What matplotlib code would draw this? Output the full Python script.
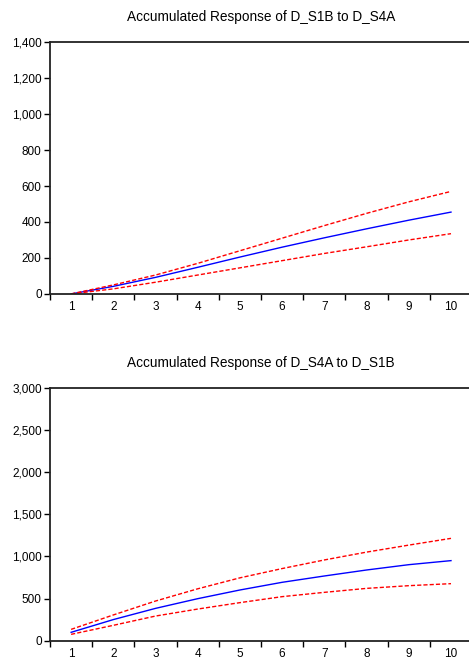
import numpy as np
import matplotlib.pyplot as plt
from matplotlib.ticker import FuncFormatter, MultipleLocator

plt.rcParams['font.family'] = ['Liberation Sans', 'DejaVu Sans']

# ----------------------------
# Data
# ----------------------------
periods = [1, 2, 3, 4, 5, 6, 7, 8, 9, 10]

s1b_mid = [0, 42, 92, 148, 205, 260, 312, 362, 410, 455]
s1b_up = [0, 50, 105, 170, 240, 310, 380, 448, 512, 570]
s1b_lo = [0, 28, 65, 105, 145, 185, 225, 262, 300, 335]

s4a_mid = [99, 250, 383, 498, 601, 692, 767, 838, 901, 949]
s4a_up = [134, 305, 470, 615, 745, 855, 957, 1050, 1133, 1213]
s4a_lo = [75, 182, 292, 375, 451, 522, 573, 620, 652, 676]


def draw_panel(ax, mid, up, lo, title, ymax, ystep):
    ax.plot(periods, mid, color="blue", lw=1.0)
    ax.plot(periods, up, color="red", lw=1.0, ls=(0, (3, 1.5)))
    ax.plot(periods, lo, color="red", lw=1.0, ls=(0, (3, 1.5)))
    ax.set_xlim(0.5, 10.5)
    ax.set_ylim(0, ymax)
    ax.yaxis.set_major_locator(MultipleLocator(ystep))
    ax.yaxis.set_major_formatter(FuncFormatter(lambda v, p: f"{int(v):,}"))
    ax.set_xticks(periods)
    ax.set_xticks(np.arange(0.5, 11, 1), minor=True)
    ax.tick_params(axis="x", which="major", length=0, pad=5, labelsize=8.5)
    ax.tick_params(axis="x", which="minor", length=4, width=1, direction="out")
    ax.tick_params(axis="y", length=4, width=1, direction="out", labelsize=8.5, pad=2)
    for s in ["left", "bottom", "top"]:
        ax.spines[s].set_linewidth(1.3)
        ax.spines[s].set_color("#222222")
    ax.spines["right"].set_visible(False)
    ax.set_title(title, fontsize=9.8, pad=15)


fig = plt.figure(figsize=(4.69, 6.59), dpi=100)
ax1 = fig.add_axes([0.1066, 0.554, 0.9, 0.382])
ax2 = fig.add_axes([0.1066, 0.0278, 0.9, 0.384])

draw_panel(ax1, s1b_mid, s1b_up, s1b_lo,
           "Accumulated Response of D_S1B to D_S4A", 1400, 200)
draw_panel(ax2, s4a_mid, s4a_up, s4a_lo,
           "Accumulated Response of D_S4A to D_S1B", 3000, 500)

plt.savefig("out.png", dpi=100)
plt.close()
